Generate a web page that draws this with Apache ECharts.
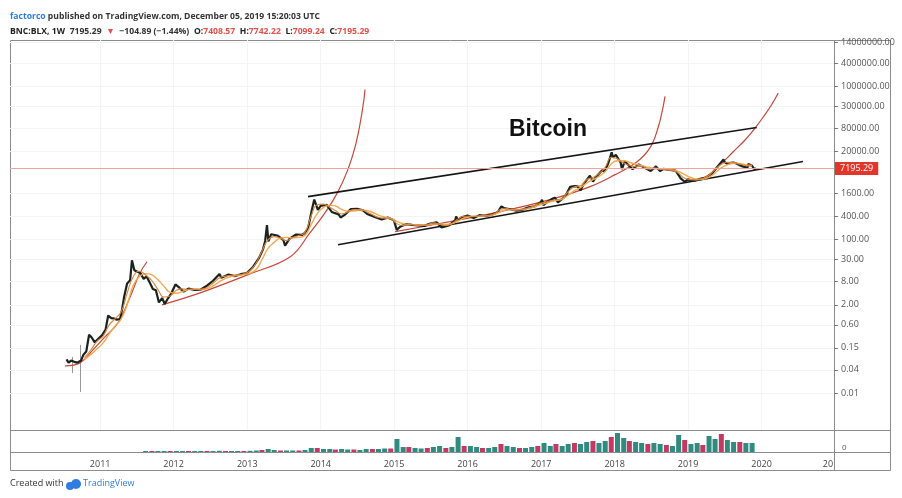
<!DOCTYPE html>
<html><head><meta charset="utf-8">
<script src="https://cdn.jsdelivr.net/npm/echarts@6/dist/echarts.min.js"></script>
<style>html,body{margin:0;padding:0;background:#fff}#c{width:902px;height:498px}</style>
</head><body><div id="c"></div>
<script>
// ---- data ----
const yTicks = [0.01,0.04,0.15,0.6,2,8,30,100,400,1600,20000,80000,300000,1000000,4000000,14000000];
const xYears = [2011,2012,2013,2014,2015,2016,2017,2018,2019,2020];
const lastPrice = 7195.29;

const price = [
['2010-07-18',0.075],['2010-07-28',0.062],['2010-08-10',0.07],['2010-08-25',0.065],['2010-09-10',0.062],['2010-09-28',0.07],
['2010-10-10',0.1],['2010-10-24',0.12],['2010-11-07',0.33],['2010-11-20',0.28],['2010-12-05',0.21],['2010-12-20',0.25],
['2011-01-10',0.32],['2011-01-28',0.45],['2011-02-10',1.05],['2011-02-25',0.9],['2011-03-10',0.88],['2011-03-25',0.82],
['2011-04-10',0.85],['2011-04-20',1.5],['2011-04-30',3.2],['2011-05-15',7.2],['2011-05-30',8.7],['2011-06-08',29],
['2011-06-20',16],['2011-07-05',14.5],['2011-07-20',13.6],['2011-08-05',9.5],['2011-08-20',11],['2011-09-05',7.5],
['2011-09-20',5.2],['2011-10-05',4.8],['2011-10-20',2.3],['2011-11-05',3.0],['2011-11-18',2.1],['2011-12-05',3.0],
['2011-12-20',3.9],['2012-01-10',6.8],['2012-01-31',5.5],['2012-02-20',4.4],['2012-03-15',5.3],['2012-04-15',4.9],
['2012-05-15',5.0],['2012-06-15',6.3],['2012-07-15',8.5],['2012-08-16',12.8],['2012-08-25',10.2],['2012-09-30',12.4],
['2012-10-30',11.2],['2012-11-30',12.6],['2012-12-30',13.4],['2013-01-30',19.5],['2013-02-28',33],['2013-03-20',55],
['2013-03-31',93],['2013-04-09',240],['2013-04-16',90],['2013-04-30',139],['2013-05-30',129],['2013-06-30',97],
['2013-07-08',70],['2013-07-30',106],['2013-08-30',135],['2013-09-30',133],['2013-10-15',150],['2013-10-31',204],
['2013-11-18',600],['2013-11-30',1120],['2013-12-05',1100],['2013-12-18',600],['2013-12-31',757],
['2014-01-31',815],['2014-02-25',530],['2014-03-31',458],['2014-04-10',380],['2014-04-30',445],['2014-05-31',630],
['2014-06-30',640],['2014-07-31',585],['2014-08-20',470],['2014-09-30',387],['2014-10-31',338],['2014-11-30',378],['2014-12-31',320],
['2015-01-14',180],['2015-01-31',218],['2015-02-28',254],['2015-03-31',244],['2015-04-30',236],['2015-05-31',230],
['2015-06-30',263],['2015-07-31',284],['2015-08-25',210],['2015-09-30',236],['2015-10-31',314],['2015-11-05',400],
['2015-11-15',330],['2015-11-30',377],['2015-12-31',430],
['2016-01-31',368],['2016-02-29',437],['2016-03-31',416],['2016-04-30',448],['2016-05-31',531],['2016-06-17',740],
['2016-06-30',673],['2016-07-31',624],['2016-08-31',575],['2016-09-30',609],['2016-10-31',700],['2016-11-30',742],['2016-12-31',963],
['2017-01-05',1100],['2017-01-12',800],['2017-01-31',970],['2017-02-28',1190],['2017-03-10',1250],['2017-03-25',940],
['2017-04-30',1350],['2017-05-25',2400],['2017-05-31',2300],['2017-06-15',2500],['2017-06-30',2480],['2017-07-16',1950],
['2017-07-31',2875],['2017-08-31',4700],['2017-09-15',3300],['2017-09-30',4340],['2017-10-31',6470],['2017-11-12',6000],
['2017-11-30',9900],['2017-12-17',19000],['2017-12-24',14000],['2017-12-31',13800],
['2018-01-07',16500],['2018-01-31',10200],['2018-02-06',7000],['2018-02-20',11100],['2018-02-28',10400],['2018-03-31',6900],
['2018-04-06',6600],['2018-04-30',9240],['2018-05-31',7500],['2018-06-29',6200],['2018-07-25',8200],['2018-08-14',6200],
['2018-08-31',7030],['2018-09-30',6630],['2018-10-31',6370],['2018-11-25',4000],['2018-12-15',3250],['2018-12-31',3740],
['2019-01-31',3460],['2019-02-28',3850],['2019-03-31',4100],['2019-04-30',5330],['2019-05-31',8570],['2019-06-26',12500],
['2019-06-30',10800],['2019-07-15',9500],['2019-07-31',10080],['2019-08-15',10300],['2019-08-31',9600],['2019-09-25',8300],
['2019-09-30',8290],['2019-10-23',7500],['2019-10-27',9500],['2019-11-15',8500],['2019-11-25',7000],['2019-12-01',7400],['2019-12-05',7195.29]
];

// early spike wicks [date, open, close, low, high]
const wicks = [['2010-08-19',0.07,0.065,0.033,0.087],['2010-09-27',0.07,0.12,0.0106,0.18]];

// moving averages, monthly from 2010-10
const maStart = [2010, 9];
const maSlow = [
0.075,0.1,0.14,
0.2,0.35,0.55,0.85,2.0,6.5,11,13,12,9,6,4.2,
4.0,4.5,5.0,5.2,5.0,5.3,6.2,8,9.8,11,11.8,12.3,
13.5,17,30,60,85,110,115,112,115,130,250,480,
700,800,760,620,560,560,590,580,520,440,390,360,
300,260,250,245,238,240,255,255,250,260,310,370,
400,410,415,425,460,540,600,610,610,630,680,780,
860,970,1050,1150,1450,1900,2300,3000,3700,4500,6000,9500,
11500,11500,10500,9300,8600,7800,7400,7100,6900,6600,6000,5000,
4200,3800,3800,4300,5500,7500,9000,9800,9700,9000,8700
];
const maFast = [
0.085,0.13,0.22,
0.3,0.6,0.85,1.3,4,11,15,12,8.5,5,3.2,3.4,
4.8,5.2,5.0,5.0,5.0,5.7,7.3,10,11.2,11.8,11.9,13,
15.5,25,50,100,120,110,95,115,128,155,420,820,
850,700,580,470,520,610,610,540,450,380,365,350,
260,235,255,240,235,245,275,255,235,265,350,410,
410,405,420,430,480,620,650,590,605,640,720,860,
930,1040,1100,1200,1800,2400,2550,3700,4200,5300,7800,14000,
13000,10000,8800,8000,8300,7000,7100,6900,6700,6500,5400,4000,
3700,3650,3950,4800,6800,9300,10500,10300,9400,8600,8400
];

// parabolic curves drawn on the chart [date, price]
const curve1 = [['2010-07-10',0.051],['2010-09-23',0.061],['2010-11-26',0.133],['2011-01-25',0.29],['2011-03-31',0.68],['2011-05-30',3.2],['2011-07-18',13.7],['2011-08-22',26.6]];
const curve2 = [['2011-11-04',2.0],['2012-05-12',4.1],['2013-01-16',12.9],['2013-08-03',35.9],['2013-11-09',152],['2014-01-23',508],['2014-03-28',1800],['2014-05-16',6760],['2014-06-20',25400],['2014-07-15',101600],['2014-08-04',457000],['2014-08-09',835000]];
const curve3 = [['2015-01-06',162],['2015-10-05',296],['2016-06-12',540],['2017-02-14',1110],['2017-09-01',2430],['2018-01-03',5000],['2018-04-17',10300],['2018-06-26',25400],['2018-08-05',84700],['2018-08-29',282000],['2018-09-08',548000]];
const curve4 = [['2018-12-15',3406],['2019-03-25',4335],['2019-06-08',8910],['2019-08-12',19450],['2019-10-11',40000],['2019-11-30',82400],['2020-01-13',169400],['2020-02-22',348300],['2020-03-24',674000]];

// channel lines
const upperLine = [['2013-10-30',1331],['2019-12-08',84700]];
const lowerLine = [['2014-03-28',74],['2020-07-25',10940]];

// volume, monthly from 2011-08
const volStart = [2011, 7];
const volume = [
1,1,1,1,1,
1,1,1,1,1,1,1,1.2,1,1,1,1,
1.2,1.5,2,3,2,1.5,1.5,1.5,1.5,2,4,4,
3,3,2.5,3,2.5,2.5,2,3,3,3,3.5,3.5,
13,5,5,4,3.5,4,5,6,4,5,15,6,
6,5,4,4,5,8,6,5,4,4,5,6,
9,6,8,6,8,9,8,10,11,9,11,15,
19,14,11,10,9,8,9,8,7,6,17,12,
8,9,7,16,13,18,12,10,10,9,9
];

// ---- build ----
const ms = d => Date.parse(d + 'T00:00:00Z');
const pts = arr => arr.map(r => [ms(r[0]), r[1]]);
const monthly = (start, arr) => arr.map((v, i) => [Date.UTC(start[0], start[1] + i, 15), v]);
const tMin = Date.UTC(2009, 9, 10), tMax = Date.UTC(2020, 11, 26);
const xLabelVals = xYears.map(y => Date.UTC(y, 0, 1)).concat([tMax]);
const volData = volume.map((v, i) => {
  const d = Date.UTC(volStart[0], volStart[1] + i, 15);
  return { value: [d, v], itemStyle: { color: (i % 3 === 1) ? '#c23a62' : '#2f8a80' } };
});

const chart = echarts.init(document.getElementById('c'), null, { renderer: 'canvas' });
const curveStyle = { color: '#c8473a', width: 1.2 };
const lineSeries = (name, data, style, extra) => Object.assign({
  name, type: 'line', data, showSymbol: false, symbol: 'none', lineStyle: style,
  xAxisIndex: 0, yAxisIndex: 0, silent: true, animation: false
}, extra || {});

chart.setOption({
  animation: false,
  backgroundColor: '#fff',
  textStyle: { fontFamily: 'Open Sans, Liberation Sans, sans-serif' },
  title: [
    { left: 5, top: 7, text: '{b|factorco}{a| published on TradingView.com, December 05, 2019 15:20:03 UTC}',
      textStyle: { rich: { a: { fontSize: 8.6, color: '#333', fontFamily: 'Open Sans' }, b: { fontSize: 8.6, color: '#2a7de1', fontFamily: 'Open Sans' } } } },
    { left: 5, top: 18, text: '{k|BNC:BLX, 1W} {a|7195.29} {r|▼} {a|−104.89 (−1.44%)} {k|O:}{r|7408.57} {k|H:}{r|7742.22} {k|L:}{r|7099.24} {k|C:}{r|7195.29}',
      textStyle: { rich: {
        k: { fontSize: 8.6, color: '#222', fontWeight: 'bold', fontFamily: 'Open Sans' },
        a: { fontSize: 8.6, color: '#333', fontFamily: 'Open Sans' },
        r: { fontSize: 8.6, color: '#e0524a', fontFamily: 'Open Sans' } } } },
    { left: 504, top: 113, text: 'Bitcoin', textStyle: { fontSize: 23, fontWeight: 'bold', color: '#111', fontFamily: 'Liberation Sans' } }
  ],
  grid: [
    { left: 10, right: 68, top: 40, height: 390 },
    { left: 10, right: 68, top: 430, height: 22 }
  ],
  xAxis: [
    { type: 'value', gridIndex: 0, min: tMin, max: tMax,
      axisLine: { show: false }, axisTick: { show: false, customValues: xLabelVals.slice(0, -1) }, axisLabel: { show: false, customValues: xLabelVals.slice(0, -1) },
      splitLine: { show: true, lineStyle: { color: '#f4f4f4' } } },
    { type: 'value', gridIndex: 1, min: tMin, max: tMax,
      axisLine: { show: false }, axisTick: { show: false, customValues: xLabelVals },
      axisLabel: { customValues: xLabelVals, fontSize: 9, color: '#444', margin: 8, showMaxLabel: true,
        formatter: v => v === tMax ? '{e|20}' : String(new Date(v).getUTCFullYear()),
        rich: { e: { fontSize: 9, color: '#444', padding: [0, 12, 0, 0] } } },
      splitLine: { show: false } }
  ],
  yAxis: [
    { type: 'log', gridIndex: 0, position: 'right', min: 0.00108, max: 16300000,
      axisLine: { show: false },
      axisTick: { show: true, customValues: yTicks, length: 4, lineStyle: { color: '#777' } },
      axisLabel: { customValues: yTicks, fontSize: 9, color: '#555', margin: 7, formatter: v => Number(v).toFixed(2) },
      splitLine: { show: true, lineStyle: { color: '#f4f4f4' } } },
    { type: 'value', gridIndex: 1, position: 'right', min: 0, max: 22, interval: 22,
      axisLine: { show: false }, axisTick: { show: false },
      axisLabel: { fontSize: 8, color: '#555', margin: 8, verticalAlign: 'bottom', formatter: v => v === 0 ? '0' : '' },
      splitLine: { show: false } }
  ],
  series: [
    lineSeries('c1', pts(curve1), curveStyle, { smooth: 0.4 }),
    lineSeries('c2', pts(curve2), curveStyle, { smooth: 0.4 }),
    lineSeries('c3', pts(curve3), curveStyle, { smooth: 0.4 }),
    lineSeries('c4', pts(curve4), curveStyle, { smooth: 0.4 }),
    lineSeries('upper', pts(upperLine), { color: '#151515', width: 1.6 }),
    lineSeries('lower', pts(lowerLine), { color: '#151515', width: 1.6 }),
    { type: 'candlestick', xAxisIndex: 0, yAxisIndex: 0, data: wicks.map(w => [ms(w[0]), w[1], w[2], w[3], w[4]]), barWidth: 1, silent: true,
      encode: { x: 0, y: [1, 2, 3, 4] },
      itemStyle: { color: '#999', color0: '#999', borderColor: '#999', borderColor0: '#999' } },
    lineSeries('price', pts(price), { color: '#1a231d', width: 2.2 }, {
      markLine: { silent: true, symbol: 'none', animation: false,
        lineStyle: { color: '#f0a49c', width: 1, type: 'solid' },
        label: { position: 'end', distance: 1, formatter: '7195.29', color: '#fff', backgroundColor: '#e3362b',
          padding: [2, 5, 2, 5], fontSize: 9, fontFamily: 'Open Sans' },
        data: [{ yAxis: lastPrice }] } }),
    lineSeries('maSlow', monthly(maStart, maSlow), { color: '#f3a94f', width: 1.4 }, { smooth: 0.5 }),
    lineSeries('maFast', monthly(maStart, maFast), { color: '#d9853f', width: 1.1 }, { smooth: 0.5 }),
    { type: 'bar', xAxisIndex: 1, yAxisIndex: 1, data: volData, barWidth: 5, silent: true }
  ],
  graphic: [
    { type: 'rect', shape: { x: 10.5, y: 40.5, width: 880, height: 430 }, style: { fill: null, stroke: '#8c8c8c', lineWidth: 1 }, silent: true },
    { type: 'line', shape: { x1: 10, y1: 430.5, x2: 891, y2: 430.5 }, style: { stroke: '#8c8c8c', lineWidth: 1 }, silent: true },
    { type: 'line', shape: { x1: 10, y1: 452.5, x2: 891, y2: 452.5 }, style: { stroke: '#8c8c8c', lineWidth: 1 }, silent: true },
    { type: 'line', shape: { x1: 834.5, y1: 40, x2: 834.5, y2: 471 }, style: { stroke: '#8c8c8c', lineWidth: 1 }, silent: true },
    { type: 'text', left: 10, top: 479, style: { text: 'Created with', font: '9px Open Sans', fill: '#333' } },
    { type: 'circle', shape: { cx: 70, cy: 486, r: 4 }, style: { fill: '#2f7de1' } },
    { type: 'circle', shape: { cx: 76, cy: 484, r: 5 }, style: { fill: '#2f7de1' } },
    { type: 'text', left: 83, top: 479, style: { text: 'TradingView', font: '9px Open Sans', fill: '#2f7de1' } }
  ]
});
</script>
</body></html>
